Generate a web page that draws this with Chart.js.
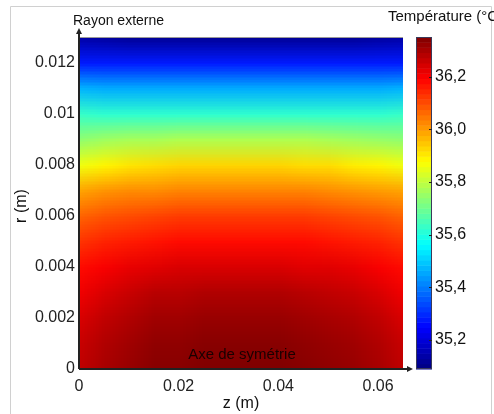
<!DOCTYPE html>
<html>
<head>
<meta charset="utf-8">
<script src="https://cdn.jsdelivr.net/npm/chart.js@4.4.0/dist/chart.umd.min.js"></script>
<style>
  html, body { margin: 0; padding: 0; background: #fff; }
  #wrap { width: 494px; height: 414px; }
</style>
</head>
<body>
<div id="wrap"><canvas id="heat" width="494" height="414"></canvas></div>
<script>
// grid nodes (m)
const zNodes = [0, 0.005, 0.01, 0.015, 0.02, 0.025, 0.03, 0.035, 0.04, 0.045, 0.05, 0.055, 0.06, 0.065];
const rNodes = [0, 0.001, 0.002, 0.003, 0.004, 0.005, 0.006, 0.007, 0.008, 0.009, 0.01, 0.011, 0.012, 0.013];

// temperature (°C) along z, one row per radius
const tR000 = [36.27, 36.30, 36.32, 36.34, 36.34, 36.35, 36.35, 36.35, 36.35, 36.34, 36.33, 36.32, 36.30, 36.27];
const tR001 = [36.26, 36.29, 36.31, 36.33, 36.33, 36.34, 36.34, 36.34, 36.34, 36.33, 36.32, 36.31, 36.29, 36.26];
const tR002 = [36.24, 36.27, 36.29, 36.31, 36.31, 36.32, 36.32, 36.32, 36.32, 36.31, 36.30, 36.29, 36.27, 36.24];
const tR003 = [36.21, 36.24, 36.26, 36.28, 36.28, 36.29, 36.29, 36.29, 36.29, 36.28, 36.27, 36.26, 36.24, 36.21];
const tR004 = [36.18, 36.20, 36.22, 36.23, 36.24, 36.24, 36.24, 36.24, 36.24, 36.23, 36.23, 36.22, 36.20, 36.18];
const tR005 = [36.13, 36.15, 36.16, 36.17, 36.18, 36.18, 36.18, 36.18, 36.18, 36.18, 36.17, 36.16, 36.15, 36.13];
const tR006 = [36.07, 36.09, 36.10, 36.11, 36.12, 36.12, 36.12, 36.12, 36.12, 36.12, 36.11, 36.10, 36.09, 36.07];
const tR007 = [35.99, 36.01, 36.02, 36.02, 36.03, 36.03, 36.03, 36.03, 36.03, 36.03, 36.02, 36.01, 36.00, 35.99];
const tR008 = [35.86, 35.89, 35.91, 35.92, 35.93, 35.93, 35.93, 35.93, 35.93, 35.92, 35.92, 35.90, 35.89, 35.86];
const tR009 = [35.74, 35.76, 35.77, 35.77, 35.78, 35.78, 35.78, 35.78, 35.78, 35.78, 35.77, 35.76, 35.75, 35.74];
const tR010 = [35.63, 35.62, 35.62, 35.62, 35.62, 35.62, 35.62, 35.62, 35.62, 35.62, 35.62, 35.62, 35.62, 35.63];
const tR011 = [35.47, 35.46, 35.46, 35.46, 35.46, 35.46, 35.46, 35.46, 35.46, 35.46, 35.46, 35.46, 35.46, 35.47];
const tR012 = [35.28, 35.28, 35.28, 35.28, 35.28, 35.28, 35.28, 35.28, 35.28, 35.28, 35.28, 35.28, 35.28, 35.28];
const tR013 = [35.14, 35.13, 35.12, 35.12, 35.12, 35.12, 35.12, 35.12, 35.12, 35.12, 35.12, 35.12, 35.13, 35.14];
const tempRows = [tR000, tR001, tR002, tR003, tR004, tR005, tR006, tR007, tR008, tR009, tR010, tR011, tR012, tR013];

// axis ticks
const zTicks = [0, 0.02, 0.04, 0.06];
const rTicks = [0, 0.002, 0.004, 0.006, 0.008, 0.01, 0.012];
const cbTicks = [35.2, 35.4, 35.6, 35.8, 36.0, 36.2];
const cbMin = 35.09, cbMax = 36.35;

const FONT = '"Liberation Sans", Arial, sans-serif';

function jet(t) {
    t = Math.max(0, Math.min(1, t));
    const c = v => Math.round(255 * Math.max(0, Math.min(1, v)));
    return [c(1.5 - Math.abs(4 * t - 3)), c(1.5 - Math.abs(4 * t - 2)), c(1.5 - Math.abs(4 * t - 1))];
}

const heatPlugin = {
    id: 'heat',
    beforeDatasetsDraw(chart) {
        const { ctx, chartArea: a, scales } = chart;
        const x = scales.x, y = scales.y;
        const nz = zNodes.length, nr = rNodes.length;

        // one pixel per node, scaled up with smoothing
        const off = document.createElement('canvas');
        off.width = nz; off.height = nr;
        const octx = off.getContext('2d');
        const img = octx.createImageData(nz, nr);
        for (let j = 0; j < nr; j++) {
            const row = tempRows[nr - 1 - j];
            for (let i = 0; i < nz; i++) {
                const rgb = jet((row[i] - cbMin) / (cbMax - cbMin));
                const k = (j * nz + i) * 4;
                img.data[k] = rgb[0]; img.data[k + 1] = rgb[1]; img.data[k + 2] = rgb[2]; img.data[k + 3] = 255;
            }
        }
        octx.putImageData(img, 0, 0);

        const dz = zNodes[1] - zNodes[0], dr = rNodes[1] - rNodes[0];
        const x0 = x.getPixelForValue(zNodes[0] - dz / 2), x1 = x.getPixelForValue(zNodes[nz - 1] + dz / 2);
        const y0 = y.getPixelForValue(rNodes[nr - 1] + dr / 2), y1 = y.getPixelForValue(rNodes[0] - dr / 2);

        ctx.save();
        ctx.beginPath();
        ctx.rect(a.left, a.top, a.right - a.left, a.bottom - a.top);
        ctx.clip();
        ctx.imageSmoothingEnabled = true;
        ctx.drawImage(off, x0, y0, x1 - x0, y1 - y0);
        ctx.restore();
    },
    afterDraw(chart) {
        const { ctx, chartArea: a, scales } = chart;
        const cb = scales.cb;
        ctx.save();

        // outer frame
        ctx.strokeStyle = '#d0d0d0';
        ctx.lineWidth = 1;
        ctx.beginPath();
        ctx.moveTo(10.5, 420); ctx.lineTo(10.5, 6.5); ctx.lineTo(491.5, 6.5); ctx.lineTo(491.5, 420);
        ctx.stroke();

        // top edge of plot
        ctx.strokeStyle = '#9a9a9a';
        ctx.beginPath();
        ctx.moveTo(a.left, a.top + 0.5); ctx.lineTo(a.right, a.top + 0.5);
        ctx.stroke();

        // axes with arrows
        ctx.strokeStyle = '#222';
        ctx.fillStyle = '#222';
        ctx.lineWidth = 2;
        ctx.beginPath();
        ctx.moveTo(a.left, a.bottom); ctx.lineTo(a.left, a.top - 5);
        ctx.moveTo(a.left, a.bottom); ctx.lineTo(a.right + 6, a.bottom);
        ctx.stroke();
        ctx.beginPath();
        ctx.moveTo(a.left, a.top - 9); ctx.lineTo(a.left - 3, a.top - 3); ctx.lineTo(a.left + 3, a.top - 3);
        ctx.closePath(); ctx.fill();
        ctx.beginPath();
        ctx.moveTo(a.right + 10, a.bottom); ctx.lineTo(a.right + 4, a.bottom - 3); ctx.lineTo(a.right + 4, a.bottom + 3);
        ctx.closePath(); ctx.fill();

        // colour bar
        const bx = a.right + 13, bw = 16;
        const steps = 64;
        for (let k = 0; k < steps; k++) {
            const v0 = cbMin + (cbMax - cbMin) * k / steps;
            const v1 = cbMin + (cbMax - cbMin) * (k + 1) / steps;
            const p0 = cb.getPixelForValue(v0), p1 = cb.getPixelForValue(v1);
            const rgb = jet((k + 0.5) / steps);
            ctx.fillStyle = 'rgb(' + rgb.join(',') + ')';
            ctx.fillRect(bx, p1, bw, p0 - p1 + 0.5);
        }
        ctx.strokeStyle = '#3a3a5a';
        ctx.lineWidth = 1;
        ctx.strokeRect(bx + 0.5, cb.getPixelForValue(cbMax) + 0.5, bw - 1, cb.getPixelForValue(cbMin) - cb.getPixelForValue(cbMax) - 1);
        ctx.strokeStyle = '#222';
        cbTicks.forEach(v => {
            const py = Math.round(cb.getPixelForValue(v)) + 0.5;
            ctx.beginPath(); ctx.moveTo(bx + bw - 3, py); ctx.lineTo(bx + bw, py); ctx.stroke();
        });

        // texts
        ctx.fillStyle = '#111';
        ctx.textBaseline = 'middle';
        ctx.font = '14px ' + FONT;
        ctx.textAlign = 'left';
        ctx.fillText('Rayon externe', 73, 21);
        ctx.font = '15px ' + FONT;
        ctx.fillText('Température (°C)', 388, 17);
        ctx.font = '16px ' + FONT;
        ctx.textAlign = 'center';
        ctx.fillText('z (m)', 241, 404);
        ctx.fillStyle = '#1a0000';
        ctx.font = '15px ' + FONT;
        ctx.fillText('Axe de symétrie', 242, 355);
        ctx.fillStyle = '#111';
        ctx.font = '16px ' + FONT;
        ctx.translate(22, 206);
        ctx.rotate(-Math.PI / 2);
        ctx.fillText('r (m)', 0, 0);
        ctx.restore();
    }
};

const tickFont = { family: FONT, size: 16 };

new Chart(document.getElementById('heat'), {
    type: 'scatter',
    data: { datasets: [] },
    plugins: [heatPlugin],
    options: {
        responsive: false,
        animation: false,
        layout: { padding: { top: 37, left: 0, right: 0, bottom: 0 } },
        plugins: { legend: { display: false }, tooltip: { enabled: false } },
        scales: {
            x: {
                type: 'linear', position: 'bottom', min: 0, max: 0.065,
                grid: { display: false, drawTicks: false },
                border: { display: false },
                afterBuildTicks: s => { s.ticks = zTicks.map(v => ({ value: v })); },
                afterFit: s => { s.height = 45; },
                ticks: { font: tickFont, color: '#222', padding: 8, maxRotation: 0,
                         callback: v => v === 0 ? '0' : String(+v.toFixed(3)) }
            },
            y: {
                type: 'linear', position: 'left', min: 0, max: 0.013,
                grid: { display: false, drawTicks: false },
                border: { display: false },
                afterBuildTicks: s => { s.ticks = rTicks.map(v => ({ value: v })); },
                afterFit: s => { s.width = 79; s.paddingTop = 0; s.paddingBottom = 0; },
                ticks: { font: tickFont, color: '#222', padding: 4,
                         callback: v => v === 0 ? '0' : String(+v.toFixed(3)) }
            },
            cb: {
                type: 'linear', position: 'right', min: cbMin, max: cbMax,
                grid: { display: false, drawTicks: false },
                border: { display: false },
                afterBuildTicks: s => { s.ticks = cbTicks.map(v => ({ value: v })); },
                afterFit: s => { s.width = 91; s.paddingTop = 0; s.paddingBottom = 0; },
                ticks: { font: tickFont, color: '#111', padding: 32,
                         callback: v => v.toFixed(1).replace('.', ',') }
            }
        }
    }
});
</script>
</body>
</html>
